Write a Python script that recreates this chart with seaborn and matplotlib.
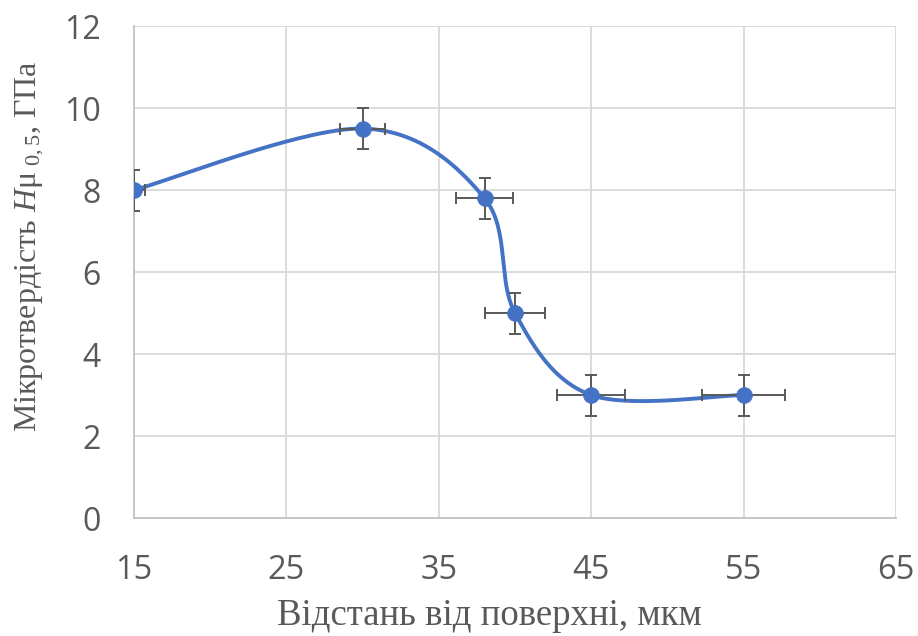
import numpy as np
import pandas as pd
import matplotlib
matplotlib.use("Agg")
import matplotlib.pyplot as plt
import seaborn as sns

# Data
distance = [15, 30, 38, 40, 45, 55]
hardness = [8.0, 9.5, 7.8, 5.0, 3.0, 3.0]
x_err = [0.75, 1.5, 1.9, 2.0, 2.25, 2.75]
y_err = [0.5, 0.5, 0.5, 0.5, 0.5, 0.5]
x_ticks = [15, 25, 35, 45, 55, 65]
y_ticks = [0, 2, 4, 6, 8, 10, 12]

sns.set_style("white")
plt.rcParams["mathtext.fontset"] = "custom"
plt.rcParams["mathtext.rm"] = "Liberation Serif"
plt.rcParams["mathtext.it"] = "Liberation Serif:italic"

BLUE = "#4472C4"
GREY = "#595959"


def excel_smooth(x, y, n=60):
    # Bezier spline through points (Catmull-Rom style, like Excel smoothing)
    P = np.column_stack([x, y]).astype(float)
    Pext = np.vstack([P[0], P, P[-1]])
    xs, ys = [], []
    t = np.linspace(0, 1, n)[:, None]
    for i in range(len(P) - 1):
        p0, p1, p2, p3 = Pext[i], Pext[i + 1], Pext[i + 2], Pext[i + 3]
        c1 = p1 + (p2 - p0) / 6.0
        c2 = p2 - (p3 - p1) / 6.0
        b = ((1 - t) ** 3) * p1 + 3 * ((1 - t) ** 2) * t * c1 + 3 * (1 - t) * t ** 2 * c2 + t ** 3 * p2
        xs.extend(b[:, 0])
        ys.extend(b[:, 1])
    return np.array(xs), np.array(ys)


sx, sy = excel_smooth(distance, hardness)
curve = pd.DataFrame({"x": sx, "y": sy, "i": np.arange(len(sx))})
pts = pd.DataFrame({"x": distance, "y": hardness})

fig = plt.figure(figsize=(9.18, 6.36), dpi=100)
ax = fig.add_axes([0.146, 0.1855, 0.830, 0.7735])

ax.grid(True, color="#D9D9D9", linewidth=1.3)
ax.set_axisbelow(True)

sns.lineplot(data=curve, x="x", y="y", sort=False, color=BLUE, linewidth=2.8, ax=ax, zorder=3)
ax.errorbar(distance, hardness, xerr=x_err, yerr=y_err, fmt="none", ecolor=GREY,
            elinewidth=1.4, capsize=4.2, capthick=1.4, zorder=4)
sns.scatterplot(data=pts, x="x", y="y", color=BLUE, s=130, edgecolor=BLUE, linewidth=0.5,
                ax=ax, zorder=5)

ax.set_xlim(15, 65)
ax.set_ylim(0, 12)
ax.set_xticks(x_ticks)
ax.set_yticks(y_ticks)
for name, s in ax.spines.items():
    if name in ("left", "bottom"):
        s.set_visible(True)
        s.set_color("#C4C4C4")
        s.set_linewidth(1.3)
    else:
        s.set_visible(False)
ax.tick_params(axis="both", length=0, labelcolor=GREY)
ax.tick_params(axis="x", pad=26, labelsize=23.5)
ax.tick_params(axis="y", pad=24, labelsize=23)
for lab in ax.get_xticklabels() + ax.get_yticklabels():
    lab.set_fontfamily("Open Sans")

ax.set_xlabel("Відстань від поверхні, мкм", fontfamily="Liberation Serif", fontsize=26.5,
              color=GREY)
ax.set_ylabel(r"Мікротвердість $\mathit{H}\mathrm{μ}_{\ \mathrm{0,5}}$, ГПа",
              fontfamily="Liberation Serif", fontsize=23, color=GREY)
ax.xaxis.set_label_coords(0.467, -0.163)
ax.yaxis.set_label_coords(-0.115, 0.553)

fig.savefig("out.png", dpi=100)
